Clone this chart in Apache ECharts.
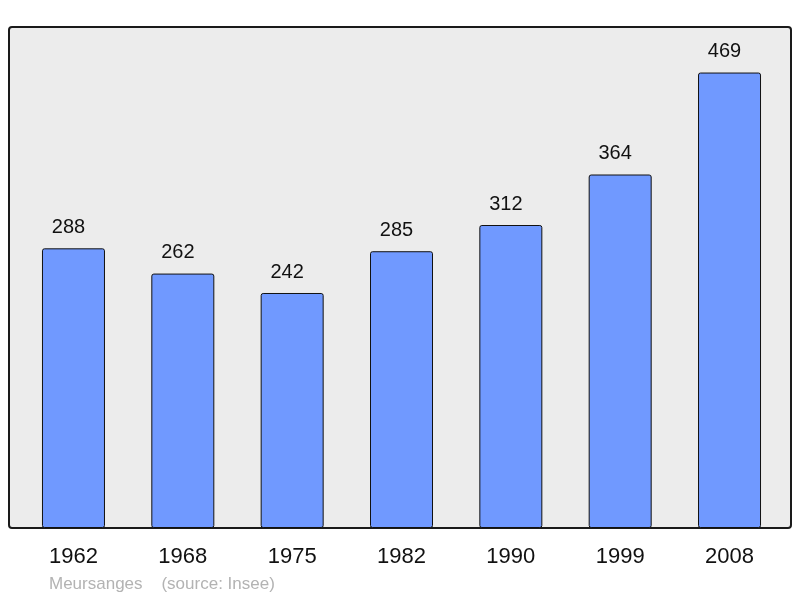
<!DOCTYPE html>
<html><head><meta charset="utf-8">
<script src="https://cdn.jsdelivr.net/npm/echarts@6/dist/echarts.min.js"></script>
<style>html,body{margin:0;padding:0;background:#fff}#c{width:800px;height:598px}</style>
</head><body><div id="c"></div>
<script>
const categories = ['1962','1968','1975','1982','1990','1999','2008'];
const population = [288, 262, 242, 285, 312, 364, 469];
const sourceText = 'Meursanges    (source: Insee)';

const chart = echarts.init(document.getElementById('c'), null, {renderer:'canvas'});
chart.setOption({
  animation: false,
  backgroundColor: '#fff',
  graphic: [
    {type:'rect', z:-1, shape:{x:9, y:27, width:782, height:501, r:3},
     style:{fill:'#ececec', stroke:'#1a1a1a', lineWidth:2}},
    {type:'text', left:49, top:576, style:{text:sourceText, fill:'#b3b3b3', font:'17px "Liberation Sans", Arial, sans-serif'}}
  ],
  grid: {left:18.8, width:765.4, top:27, bottom:70, containLabel:false},
  xAxis: {
    type:'category', data:categories,
    axisLine:{show:false}, axisTick:{show:false},
    axisLabel:{color:'#111', fontSize:22, margin:18, fontFamily:'"Liberation Sans", Arial, sans-serif'}
  },
  yAxis: {type:'value', min:0, max:515.9, show:false, splitLine:{show:false}},
  series: [{
    type:'bar', data:population, barWidth:63,
    itemStyle:{color:'#7099ff', borderColor:'#111', borderWidth:1, borderRadius:2},
    label:{show:true, position:'top', distance:11, offset:[-5,0], color:'#111', fontSize:20,
      fontFamily:'"Liberation Sans", Arial, sans-serif'}
  }]
});
</script></body></html>
